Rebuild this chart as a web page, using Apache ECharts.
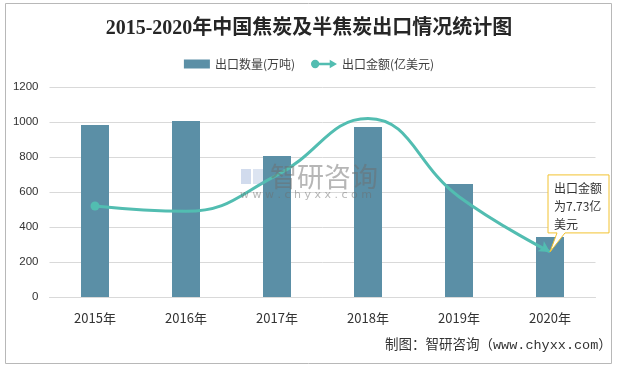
<!DOCTYPE html>
<html>
<head>
<meta charset="utf-8">
<script src="https://cdn.jsdelivr.net/npm/echarts@6/dist/echarts.min.js"></script>
<style>html,body{margin:0;padding:0;background:#fff}#c{width:618px;height:369px}</style>
</head>
<body>
<div id="c"></div>
<script>
const categories = ['2015年','2016年','2017年','2018年','2019年','2020年'];
const volume = [983, 1006, 806, 971, 646, 343];       // 出口数量(万吨)
const amount = [15.6, 14.7, 20.9, 30.6, 17.2, 7.73];  // 出口金额(亿美元)
const yTicks = [0, 200, 400, 600, 800, 1000, 1200];
const titleText = '2015-2020年中国焦炭及半焦炭出口情况统计图';
const seriesNames = ['出口数量(万吨)', '出口金额(亿美元)'];
const calloutText = '出口金额\n为7.73亿\n美元';
const sourceText = '制图：智研咨询（www.chyxx.com）';

const barColor = '#5b8fa6';
const lineColor = '#52bdb1';
const chart = echarts.init(document.getElementById('c'), null, {renderer: 'canvas'});

const lineIcon = 'path://M1,5 A4,4 0 1,1 9,5 A4,4 0 1,1 1,5 Z M8,3.8 L21,3.8 L21,6.2 L8,6.2 Z M19,1 L26,5 L19,9 Z';
const lastIdx = amount.length - 1;

chart.setOption({
  animation: false,
  backgroundColor: '#fff',
  title: {
    text: titleText, left: 'center', top: 14,
    textStyle: {fontFamily: "'Liberation Serif','Noto Sans CJK SC'", fontWeight: 'bold', fontSize: 20, color: '#262626'}
  },
  legend: {
    top: 53, left: 'center', itemWidth: 26, itemHeight: 10, itemGap: 16,
    textStyle: {fontSize: 12, color: '#404040', fontFamily: "'Noto Sans CJK SC'"},
    data: [
      {name: seriesNames[0], icon: 'path://M0,0.5 L26,0.5 L26,9.5 L0,9.5 Z'},
      {name: seriesNames[1], icon: lineIcon, itemStyle: {color: lineColor}}
    ]
  },
  grid: {left: 49.5, right: 22.5, top: 87, bottom: 72, containLabel: false},
  xAxis: {
    type: 'category', data: categories,
    axisLine: {lineStyle: {color: '#d9d9d9'}},
    axisTick: {show: false},
    axisLabel: {fontSize: 13, color: '#333', margin: 15, fontFamily: "'Noto Sans CJK SC'"}
  },
  yAxis: [
    {
      type: 'value', min: yTicks[0], max: yTicks[yTicks.length - 1], interval: yTicks[1] - yTicks[0],
      axisLine: {show: false}, axisTick: {show: false},
      axisLabel: {fontSize: 11.5, color: '#333', margin: 11, fontFamily: "'Liberation Sans'", formatter: v => String(v)},
      splitLine: {lineStyle: {color: '#d9d9d9'}}
    },
    {type: 'value', min: 0, max: 36, show: false, splitLine: {show: false}}
  ],
  series: [
    {
      name: seriesNames[0], type: 'bar', data: volume, barWidth: 28,
      itemStyle: {color: barColor}, z: 3
    },
    {
      name: seriesNames[1], type: 'line', yAxisIndex: 1, smooth: 0.45,
      symbol: 'none', showSymbol: true,
      lineStyle: {color: lineColor, width: 3},
      itemStyle: {color: lineColor},
      data: amount.map((v, i) => {
        if (i === 0) return {value: v, symbol: 'circle', symbolSize: 9};
        if (i === lastIdx) return {value: v, symbol: 'arrow', symbolSize: [9, 11], symbolRotate: -122};
        return {value: v, symbol: 'none'};
      }),
      z: 4
    }
  ]
});

// annotation and decorations positioned from the library's own scale
const p = chart.convertToPixel({seriesIndex: 1}, [lastIdx, amount[lastIdx]]);
const L = p[0] - 2, T = p[1] - 77, R = L + 61, B = T + 58;
chart.setOption({
  graphic: [
    {type: 'rect', shape: {x: 5.5, y: 3.5, width: 606, height: 360}, style: {fill: 'none', stroke: '#b8b8b8', lineWidth: 1}, z: 0, silent: true},
    // watermark
    {type: 'rect', z: 50, silent: true, shape: {x: 241, y: 169, width: 10, height: 15}, style: {fill: 'rgba(140,165,210,0.4)'}},
    {type: 'rect', z: 50, silent: true, shape: {x: 253, y: 169, width: 10, height: 15}, style: {fill: 'rgba(140,165,210,0.3)'}},
    {type: 'text', z: 50, silent: true, style: {text: '智研咨询', x: 270, y: 163, font: "27px 'Noto Sans CJK SC'", fill: 'rgba(110,110,110,0.5)'}},
    {type: 'text', z: 50, silent: true, style: {text: 'w w w . c h y x x . c o m', x: 240, y: 190, font: "11px 'DejaVu Sans'", fill: 'rgba(110,110,110,0.5)'}},
    // callout
    {type: 'polygon', z: 60, silent: true,
      shape: {points: [[L, T], [R, T], [R, B], [p[0] + 15, B], [p[0], p[1]], [p[0] + 7, B], [L, B]]},
      style: {fill: '#fff', stroke: '#f2c230', lineWidth: 1}},
    {type: 'text', z: 61, silent: true,
      style: {text: calloutText, x: L + 6, y: T + 5, font: "12px 'Noto Sans CJK SC'", lineHeight: 18, fill: '#333'}},
    // source
    {type: 'text', z: 5, silent: true,
      style: {text: sourceText, x: 385, y: 339, font: "13.5px 'Liberation Mono','Noto Sans CJK SC'", fill: '#333'}}
  ]
});
</script>
</body>
</html>
